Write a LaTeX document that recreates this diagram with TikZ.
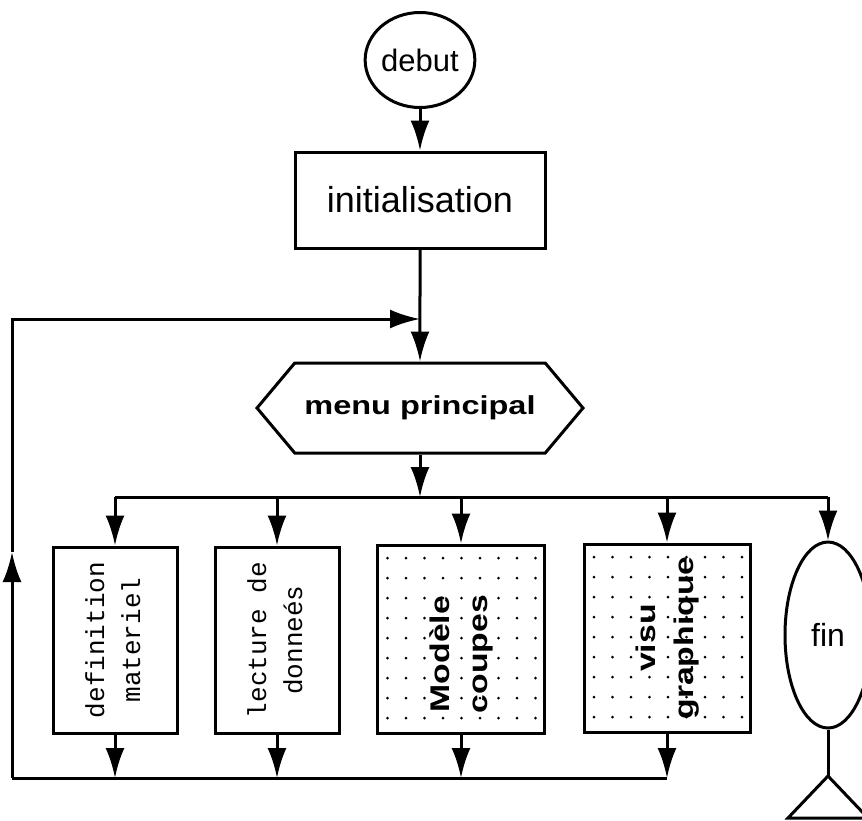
\documentclass[tikz,border=0pt]{standalone}
\usepackage{fontspec}
\setmainfont{Liberation Sans}
\newfontfamily\thinfont{Liberation Mono}
\newfontfamily\widefont[FakeStretch=1.25]{Liberation Sans}
\usepackage{graphicx}
\usetikzlibrary{arrows.meta}
\usetikzlibrary{shapes.geometric}
\usetikzlibrary{shapes.symbols}
\newcommand{\vtext}[3][0pt]{\rotatebox{90}{\hspace*{#1}\begin{tabular}{@{}c@{}}#2\\#3\end{tabular}}}

\begin{document}
\begin{tikzpicture}[x=1pt,y=-1pt,line width=3pt,
    >={Latex[length=30pt,width=19pt]},
    oval/.style={draw,ellipse,inner sep=0pt},
    stepbox/.style={draw,rectangle,inner sep=0pt},
    menubox/.style={draw,signal,signal to=west and east,signal pointer angle=100,inner sep=0pt},
    dotfill/.style={path picture={
        \foreach \i in {0,...,8}
            \foreach \j in {0,...,8}
                \fill ([xshift=\i*18.5pt+10pt,yshift=-\j*20pt-13pt]path picture bounding box.north west) circle (1.5pt);
    }}]
            \useasboundingbox (0,0) rectangle (862,820);

            % Draw the top of the chart
            \node[oval,minimum width=84,minimum height=95] (debut) at (420,60) {\fontsize{31}{33}\selectfont debut};
            \node[stepbox,minimum width=250,minimum height=96] (init) at (420,200) {\fontsize{36}{38}\selectfont initialisation};
            \node[menubox,minimum width=326,minimum height=90] (menu) at (420,408) {\widefont\fontsize{26}{30}\selectfont\bfseries menu principal};

            \coordinate (join) at (420,319);
            \coordinate (split) at (420,497);
            \coordinate (back) at (12,778);
            \coordinate (up) at (12,552);
            \coordinate (corner) at (12,319);

            \draw[->] (debut) -- (init);
            \draw[->] (init) -- (menu);
            \draw[->] (menu) -- (split);

            % Draw the five choices
            \node[stepbox,minimum width=124,minimum height=186] (defmat) at (115,640) {\thinfont\fontsize{26}{36}\selectfont\vtext{definition}{materiel}};
            \node[stepbox,minimum width=124,minimum height=186] (lecture) at (277,640) {\thinfont\fontsize{26}{36}\selectfont\vtext{lecture de}{donneés}};
            \node[stepbox,dotfill,minimum width=167,minimum height=188] (modele) at (461,639) {\widefont\fontsize{27}{38}\selectfont\bfseries\vtext[-30pt]{Modèle}{coupes}};
            \node[stepbox,dotfill,minimum width=166,minimum height=188] (visu) at (667,638) {\widefont\fontsize{27}{38}\selectfont\bfseries\vtext{visu}{graphique}};
            \node[oval,minimum width=86,minimum height=186] (fin) at (828,635) {\fontsize{32}{34}\selectfont fin};

            \draw (defmat |- split) -- (fin |- split);
            \foreach \n in {defmat,lecture,modele,visu,fin}
                \draw[->] (\n |- split) -- (\n);

            % Draw the way back to the menu
            \foreach \n in {defmat,lecture,modele,visu}
                \draw[->] (\n.south) -- (\n |- back);
            \draw (visu |- back) -- (back);
            \draw[->] (back) -- (up);
            \draw[->] (up) -- (corner) -- (join);

            % Draw the stand under fin
            \coordinate (apex) at (828,776);
            \draw (fin) -- (apex);
            \draw (apex) -- (788,818) -- (868,818) -- cycle;

        \end{tikzpicture}
\end{document}
